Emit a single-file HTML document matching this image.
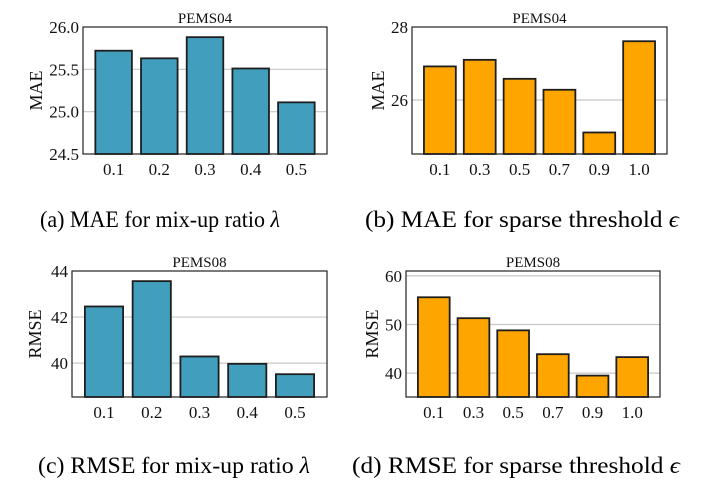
<!DOCTYPE html>
<html><head><meta charset="utf-8">
<style>
body{margin:0;background:#fff;}
svg{display:block;font-family:"Liberation Serif",serif;}
</style></head>
<body>
<svg id="fig" width="702" height="480" viewBox="0 0 702 480">
<text x="40" y="227" font-size="23" textLength="240" lengthAdjust="spacingAndGlyphs">(a) MAE for mix-up ratio <tspan font-style="italic">λ</tspan></text>
<text x="365" y="227" font-size="23" textLength="314" lengthAdjust="spacingAndGlyphs">(b) MAE for sparse threshold <tspan font-style="italic">ϵ</tspan></text>
<text x="38" y="473" font-size="23" textLength="272" lengthAdjust="spacingAndGlyphs">(c) RMSE for mix-up ratio <tspan font-style="italic">λ</tspan></text>
<text x="352" y="473" font-size="23" textLength="328" lengthAdjust="spacingAndGlyphs">(d) RMSE for sparse threshold <tspan font-style="italic">ϵ</tspan></text>
</svg>
<script>
const catsA = ["0.1","0.2","0.3","0.4","0.5"];
const valsA = [25.72,25.63,25.88,25.51,25.11];
const ticksA = [24.5,25.0,25.5,26.0];
const catsB = ["0.1","0.3","0.5","0.7","0.9","1.0"];
const valsB = [26.92,27.10,26.58,26.28,25.11,27.61];
const ticksB = [26,28];
const catsC = ["0.1","0.2","0.3","0.4","0.5"];
const valsC = [42.46,43.56,40.29,39.97,39.52];
const ticksC = [40,42,44];
const catsD = ["0.1","0.3","0.5","0.7","0.9","1.0"];
const valsD = [55.6,51.3,48.8,43.9,39.5,43.3];
const ticksD = [40,50,60];

const NS="http://www.w3.org/2000/svg";
const svg=document.getElementById('fig');
function mk(tag,attrs,parent){const e=document.createElementNS(NS,tag);for(const k in attrs)e.setAttribute(k,attrs[k]);(parent||svg).appendChild(e);return e;}

function chart(id,cfg,cats,vals,ticks){
  const g=mk('g',{});
  
  
  const {L,R,T,B,ymin,ymax,color,title,ylabel,dec,pad}=cfg;
  const y=v=>B-(v-ymin)/(ymax-ymin)*(B-T);
  const n=cats.length, step=(R-L)/(n-1+2*pad);
  const x=i=>L+(pad+i)*step;
  ticks.forEach(t=>{
    const yy=y(t);
    if(Math.abs(yy-T)>1&&Math.abs(yy-B)>1){
      const gl=mk('line',{x1:L,x2:R,y1:yy,y2:yy,stroke:'#c8c8c8','stroke-width':1.2},g);
      
      
    }
    const tl=mk('text',{x:L-4,y:yy+6,'font-size':17,'text-anchor':'end',fill:'#111'},g);
    tl.textContent=t.toFixed(dec);
    
    
  });
  cats.forEach((c,i)=>{
    const w=step*0.8, top=y(vals[i]);
    const b=mk('rect',{x:x(i)-w/2,y:top,width:w,height:B-top,fill:color,stroke:'#1e1e1e','stroke-width':1.8},g);
    
    
    const tl=mk('text',{x:x(i),y:B+21,'font-size':17,'text-anchor':'middle',fill:'#111'},g);
    tl.textContent=c;
    
    
  });
  const fr=mk('rect',{x:L,y:T,width:R-L,height:B-T,fill:'none',stroke:'#222','stroke-width':1.2},g);
  
  
  const tt=mk('text',{x:(L+R)/2,y:T-4,'font-size':15,'text-anchor':'middle',fill:'#111'},g);
  tt.textContent=title;
  
  
  const yl=mk('text',{x:0,y:0,'font-size':18,'text-anchor':'middle',fill:'#111',transform:`translate(${cfg.ylx},${(T+B)/2}) rotate(-90)`},g);
  yl.textContent=ylabel;
  
  
}
chart('chart-a',{L:83,R:327,T:27,B:154,ymin:24.5,ymax:26.0,color:'#429ebd',title:'PEMS04',ylabel:'MAE',dec:1,pad:0.67,ylx:42},catsA,valsA,ticksA);
chart('chart-b',{L:412,R:667,T:27,B:154,ymin:24.52,ymax:28,color:'#ffa500',title:'PEMS04',ylabel:'MAE',dec:0,pad:0.7,ylx:384},catsB,valsB,ticksB);
chart('chart-c',{L:72,R:327,T:271,B:397,ymin:38.53,ymax:44.0,color:'#429ebd',title:'PEMS08',ylabel:'RMSE',dec:0,pad:0.67,ylx:41},catsC,valsC,ticksC);
chart('chart-d',{L:406,R:660,T:271,B:397,ymin:35.1,ymax:61,color:'#ffa500',title:'PEMS08',ylabel:'RMSE',dec:0,pad:0.7,ylx:378},catsD,valsD,ticksD);
</script>
</body></html>
